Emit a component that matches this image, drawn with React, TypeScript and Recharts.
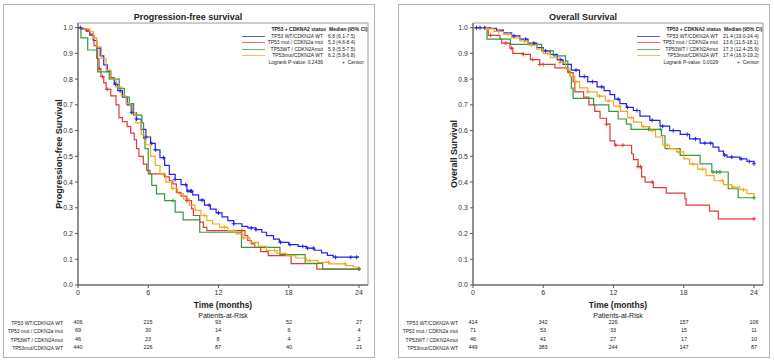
import React from 'react';
import { ComposedChart, Line, Scatter, XAxis, YAxis, ReferenceArea } from 'recharts';

type Step = [number, number];

const groups = ['TP53 WT/CDKN2A WT', 'TP53 mut / CDKN2a mut', 'TP53WT / CDKN2Amut', 'TP53mut/CDKN2A WT'];
const colors = ['#2424e6', '#e23a3a', '#38983c', '#f4a81d'];
const timeTicks = [0, 6, 12, 18, 24];
const survTicks = [0, 0.1, 0.2, 0.3, 0.4, 0.5, 0.6, 0.7, 0.8, 0.9, 1.0];

// progression-free survival
const pfsWtWt: Step[] = [
  [0, 1], [0.3, 0.995], [0.7, 0.99], [1.0, 0.975], [1.3, 0.95], [1.6, 0.92], [1.9, 0.89], [2.2, 0.855],
  [2.5, 0.83], [2.8, 0.805], [3.1, 0.78], [3.4, 0.755], [3.8, 0.73], [4.2, 0.7], [4.6, 0.67], [5.0, 0.645],
  [5.4, 0.605], [5.8, 0.575], [6.2, 0.55], [6.6, 0.525], [7.0, 0.495], [7.4, 0.465], [7.8, 0.43], [8.3, 0.41],
  [8.8, 0.39], [9.3, 0.365], [9.8, 0.35], [10.3, 0.33], [10.8, 0.31], [11.3, 0.295], [11.8, 0.28], [12.3, 0.265],
  [12.8, 0.25], [13.3, 0.238], [14.0, 0.228], [14.5, 0.222], [15.2, 0.215], [15.7, 0.205], [16.1, 0.192],
  [16.7, 0.178], [17.2, 0.166], [18.0, 0.157], [18.8, 0.15], [19.5, 0.143], [20.2, 0.135], [20.8, 0.125],
  [21.3, 0.115], [21.8, 0.108], [24, 0.108],
];
const pfsMutMut: Step[] = [
  [0, 1], [0.4, 0.995], [0.7, 0.985], [1.0, 0.97], [1.37, 0.93], [1.6, 0.88], [1.8, 0.84], [1.96, 0.81],
  [2.2, 0.785], [2.4, 0.76], [2.8, 0.735], [3.25, 0.7], [3.5, 0.65], [3.8, 0.635], [4.2, 0.615], [4.5, 0.59],
  [4.8, 0.565], [5.0, 0.53], [5.2, 0.5], [5.58, 0.47], [5.87, 0.445], [6.15, 0.432], [7.4, 0.42], [7.8, 0.405],
  [8.1, 0.393], [8.4, 0.36], [8.8, 0.345], [9.3, 0.328], [9.7, 0.296], [9.85, 0.27], [10.4, 0.244],
  [10.7, 0.224], [11.0, 0.211], [14.26, 0.192], [14.5, 0.173], [14.8, 0.16], [15.1, 0.146], [15.6, 0.13],
  [16.25, 0.114], [18.2, 0.083], [20.4, 0.062], [24, 0.062],
];
const pfsWtMut: Step[] = [
  [0, 1], [0.25, 0.96], [0.83, 0.913], [1.68, 0.828], [2.67, 0.8], [3.52, 0.764], [3.96, 0.73], [4.38, 0.705],
  [4.75, 0.66], [5.46, 0.63], [5.6, 0.57], [5.72, 0.53], [6.0, 0.432], [6.3, 0.387], [6.7, 0.354], [7.4, 0.328],
  [8.3, 0.283], [8.98, 0.253], [10.4, 0.205], [13.96, 0.146], [17.25, 0.118], [19.4, 0.084], [20.9, 0.062],
  [24, 0.062],
];
const pfsMutWt: Step[] = [
  [0, 1], [0.5, 0.995], [1.0, 0.985], [1.3, 0.96], [1.6, 0.925], [2.0, 0.88], [2.4, 0.835], [2.8, 0.8],
  [3.25, 0.77], [3.7, 0.735], [4.1, 0.705], [4.5, 0.67], [4.95, 0.63], [5.4, 0.585], [5.8, 0.545], [6.2, 0.5],
  [6.6, 0.465], [7.0, 0.43], [7.5, 0.4], [8.0, 0.375], [8.5, 0.355], [9.0, 0.335], [9.5, 0.31], [10.0, 0.29],
  [10.5, 0.27], [11.0, 0.25], [11.5, 0.237], [12.1, 0.224], [12.8, 0.21], [13.5, 0.199], [14.1, 0.183],
  [14.7, 0.166], [15.4, 0.15], [16.1, 0.134], [17.0, 0.123], [17.8, 0.114], [18.6, 0.105], [19.5, 0.095],
  [20.5, 0.088], [21.5, 0.082], [22.9, 0.075], [23.5, 0.07], [24, 0.066],
];

// overall survival
const osWtWt: Step[] = [
  [0, 1], [1.45, 0.997], [2.0, 0.99], [2.6, 0.98], [3.3, 0.968], [4.0, 0.955], [4.7, 0.94], [5.45, 0.922],
  [6.0, 0.91], [6.6, 0.896], [7.2, 0.875], [7.7, 0.857], [8.4, 0.835], [9.1, 0.81], [9.8, 0.79], [10.6, 0.77],
  [11.2, 0.755], [11.7, 0.74], [12.1, 0.722], [12.55, 0.705], [13.1, 0.69], [13.7, 0.678], [14.26, 0.656],
  [15.1, 0.64], [15.97, 0.617], [16.8, 0.6], [17.7, 0.585], [18.5, 0.568], [19.4, 0.551], [20.5, 0.536],
  [21.0, 0.52], [21.4, 0.505], [21.7, 0.497], [22.8, 0.49], [23.4, 0.48], [24, 0.471],
];
const osMutMut: Step[] = [
  [0, 1], [1.3, 0.97], [2.3, 0.955], [2.45, 0.94], [3.16, 0.92], [3.4, 0.9], [4.3, 0.896], [4.9, 0.876],
  [5.7, 0.857], [7.0, 0.844], [8.1, 0.825], [8.55, 0.79], [8.7, 0.75], [9.45, 0.73], [9.9, 0.7], [10.4, 0.675],
  [10.85, 0.648], [11.4, 0.625], [11.7, 0.56], [12.1, 0.543], [13.55, 0.51], [13.7, 0.487], [14.1, 0.46],
  [14.4, 0.42], [14.7, 0.4], [15.4, 0.378], [16.5, 0.357], [18.1, 0.336], [18.2, 0.31], [20.2, 0.287],
  [20.95, 0.257], [24, 0.257],
];
const osWtMut: Step[] = [
  [0, 1], [1.2, 0.955], [3.2, 0.935], [5.86, 0.91], [6.86, 0.89], [7.9, 0.87], [8.1, 0.83], [8.3, 0.81],
  [8.4, 0.765], [8.55, 0.725], [10.3, 0.7], [11.6, 0.675], [12.4, 0.645], [13.1, 0.625], [13.5, 0.605],
  [16.1, 0.58], [16.4, 0.53], [17.7, 0.504], [19.4, 0.471], [20.4, 0.439], [21.8, 0.374], [22.65, 0.339],
  [24, 0.339],
];
const osMutWt: Step[] = [
  [0, 1], [1.0, 0.995], [1.8, 0.985], [2.6, 0.974], [3.3, 0.96], [4.0, 0.948], [4.7, 0.932], [5.45, 0.916],
  [6.0, 0.9], [6.6, 0.883], [7.4, 0.864], [7.9, 0.84], [8.3, 0.81], [8.7, 0.79], [9.1, 0.766], [9.8, 0.75],
  [10.6, 0.734], [11.3, 0.715], [12.0, 0.695], [12.6, 0.675], [13.2, 0.65], [13.7, 0.633], [14.4, 0.615],
  [15.1, 0.6], [15.6, 0.575], [16.2, 0.543], [16.8, 0.53], [17.4, 0.517], [18.0, 0.49], [18.5, 0.47],
  [19.2, 0.45], [19.9, 0.425], [20.6, 0.405], [21.4, 0.39], [22.1, 0.38], [22.8, 0.37], [23.4, 0.355],
  [24, 0.337],
];

// censor times (months)
const pfsCensor = [
  [0.2, 3.2, 3.6, 4.6, 5.0, 5.8, 6.3, 6.6, 7.3, 8.3, 9.2, 9.4, 9.6, 9.7, 10.6, 11.2, 12.0, 13.3, 14.8, 15.2,
    17.3, 18.1, 19.2, 19.6, 20.1, 22.0, 23.3, 23.8],
  [1.8, 2.1, 2.5, 9.3, 14.0, 24],
  [8.1, 24],
  [7.3, 8.1, 10.8, 12.5, 13.3, 14.1, 16.8, 19.8, 21.4, 22.8],
];
const osCensor = [
  [0.3, 0.6, 1.0, 3.5, 4.5, 5.2, 6.2, 7.5, 8.8, 9.5, 10.2, 11.0, 12.4, 13.2, 14.0, 15.3, 16.2, 17.1, 18.3,
    19.0, 19.8, 20.3, 21.5, 22.1, 22.9, 23.6, 24],
  [1.5, 2.8, 3.3, 4.3, 5.1, 5.7, 6.0, 11.4, 12.2, 12.8, 14.1, 14.3, 15.3, 24],
  [15.0, 16.0, 20.5, 20.8, 21.1, 24],
  [1.2, 2.2, 3.0, 4.4, 5.0, 6.4, 7.4, 8.8, 9.8, 10.8, 11.6, 12.5, 13.5, 14.6, 15.3, 16.6, 17.6, 18.8, 19.6,
    21.3, 22.2, 23.1],
];

const pfsMedians = ['6.8 (6.1-7.5)', '5.3 (4.6-8.4)', '5.9 (5.5-7.5)', '6.2 (5.8-6.8)'];
const osMedians = ['21.4 (19.0-24.4)', '13.6 (11.5-18.1)', '17.3 (12.4-25.9)', '17.4 (16.0-19.2)'];

const pfsRisk = [[406, 215, 93, 52, 27], [69, 30, 14, 6, 4], [46, 23, 8, 4, 2], [440, 226, 87, 40, 21]];
const osRisk = [[414, 342, 226, 157, 106], [71, 53, 33, 15, 11], [46, 41, 27, 17, 10], [449, 383, 244, 147, 87]];

const X_MAX = 24.77;
const Y_MAX = 1.018;

const toPts = (a: Step[]) => a.map(([t, s]) => ({ t, s }));
const survAt = (a: Step[], t: number) => {
  let s = a[0][1];
  for (const [ti, si] of a) {
    if (ti <= t) s = si;
    else break;
  }
  return s;
};

const Txt = ({ x, y, size, bold, align = 'left', children }: any) => (
  <div
    style={{
      position: 'absolute',
      left: x,
      top: y,
      transform: `translate(${align === 'center' ? '-50%' : align === 'right' ? '-100%' : '0'}, -50%)`,
      fontSize: size,
      fontWeight: bold ? 700 : 400,
      whiteSpace: 'nowrap',
      lineHeight: 1,
      color: '#222',
    }}
  >
    {children}
  </div>
);

const cross = (color: string) => (props: any) => {
  const { cx, cy } = props;
  return <path d={`M${cx - 2},${cy}h4M${cx},${cy - 2}v4`} stroke={color} strokeWidth={1} fill="none" />;
};

function Panel({ dx, title, yLabel, curves, censors, medians, pValue, risk }: any) {
  const riskX = [78, 148, 218, 289, 359];
  const rowY = [323, 331, 340, 348];
  const legY = [36, 42, 49, 55];
  return (
    <>
      <div
        style={{
          position: 'absolute', left: 3 + dx, top: 4, width: 370, height: 352,
          border: '1.5px solid #b4b4b4',
        }}
      />
      <div style={{ position: 'absolute', left: dx, top: 0 }}>
        <ComposedChart width={380} height={300} margin={{ top: 23, right: 12, bottom: 0, left: 0 }}>
          <ReferenceArea x1={0} x2={X_MAX} y1={0} y2={Y_MAX} fill="none" stroke="#9a9a9a" strokeWidth={1} />
          <XAxis
            dataKey="t" type="number" domain={[0, X_MAX]} ticks={timeTicks} height={15}
            tickSize={3} tick={{ fontSize: 7, fill: '#333' }} stroke="#555" allowDataOverflow
          />
          <YAxis
            type="number" domain={[0, Y_MAX]} ticks={survTicks} width={78} tickSize={3}
            tick={{ fontSize: 7, fill: '#333' }} stroke="#555" tickFormatter={(v: number) => v.toFixed(1)}
            allowDataOverflow
          />
          {curves.map((c: Step[], i: number) => (
            <Line
              key={'l' + i} data={toPts(c)} dataKey="s" type="stepAfter" stroke={colors[i]}
              strokeWidth={1.2} dot={false} isAnimationActive={false}
            />
          ))}
          {censors.map((ts: number[], i: number) => (
            <Scatter
              key={'c' + i} data={ts.map((t) => ({ t, s: survAt(curves[i], t) }))} dataKey="s"
              shape={cross(colors[i])} isAnimationActive={false}
            />
          ))}
        </ComposedChart>
      </div>
      <Txt x={dx + 188} y={17} size={9} bold align="center">{title}</Txt>
      <div
        style={{
          position: 'absolute', left: dx + 59, top: 154, transform: 'translate(-50%, -50%) rotate(-90deg)',
          fontSize: 9, fontWeight: 700, whiteSpace: 'nowrap', lineHeight: 1, color: '#222',
        }}
      >
        {yLabel}
      </div>

      <Txt x={dx + 326} y={29} size={5} bold align="right">TP53 + CDKNA2 status</Txt>
      <Txt x={dx + 329} y={29} size={5} bold>Median (95% CI)</Txt>
      {groups.map((g, i) => (
        <React.Fragment key={g}>
          <div
            style={{
              position: 'absolute', left: dx + 242, top: legY[i], width: 23, height: 1,
              background: colors[i], opacity: 0.75,
            }}
          />
          <Txt x={dx + 323} y={legY[i]} size={5} align="right">{g}</Txt>
          <Txt x={dx + 328} y={legY[i]} size={5}>{medians[i]}</Txt>
        </React.Fragment>
      ))}
      <Txt x={dx + 323} y={62} size={5} align="right">Logrank P-value: {pValue}</Txt>
      <Txt x={dx + 342} y={62} size={5}>+&nbsp;&nbsp;Censor</Txt>

      <Txt x={dx + 223} y={305} size={8.5} bold align="center">Time (months)</Txt>
      <Txt x={dx + 223} y={314.5} size={7} align="center">Patients-at-Risk</Txt>
      {groups.map((g, i) => (
        <React.Fragment key={'r' + g}>
          <Txt x={dx + 63} y={rowY[i]} size={5} align="right">{g}</Txt>
          {risk[i].map((n: number, j: number) => (
            <Txt key={j} x={dx + riskX[j]} y={rowY[i]} size={5.5} align="center">{n}</Txt>
          ))}
        </React.Fragment>
      ))}
    </>
  );
}

export default function App() {
  return (
    <div
      style={{
        position: 'relative', width: 774, height: 364, background: '#fff', overflow: 'hidden',
        fontFamily: '"Liberation Sans", Arial, sans-serif',
      }}
    >
      <style>{'body{margin:0}'}</style>
      <Panel
        dx={0}
        title="Progression-free survival"
        yLabel="Progression-free Survival"
        curves={[pfsWtWt, pfsMutMut, pfsWtMut, pfsMutWt]}
        censors={pfsCensor}
        medians={pfsMedians}
        pValue="0.2436"
        risk={pfsRisk}
      />
      <Panel
        dx={395}
        title="Overall Survival"
        yLabel="Overall Survival"
        curves={[osWtWt, osMutMut, osWtMut, osMutWt]}
        censors={osCensor}
        medians={osMedians}
        pValue="0.0029"
        risk={osRisk}
      />
    </div>
  );
}
